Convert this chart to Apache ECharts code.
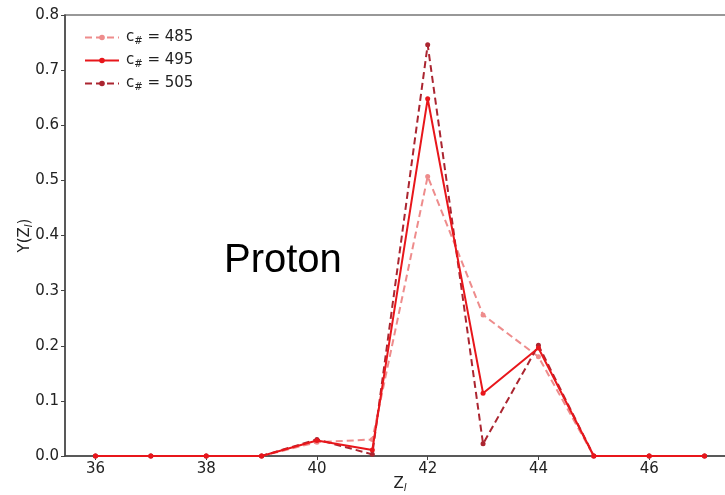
<!DOCTYPE html>
<html>
<head>
<meta charset="utf-8">
<script src="https://cdn.jsdelivr.net/npm/echarts@6/dist/echarts.min.js"></script>
<style>
  html, body { margin: 0; padding: 0; background: #fff; }
  #chart { width: 725px; height: 495px; }
</style>
</head>
<body>
<div id="chart"></div>
<script>
// Z_l values on the x axis
const zValues = [36, 37, 38, 39, 40, 41, 42, 43, 44, 45, 46, 47];
const xTicks = [36, 38, 40, 42, 44, 46];

// Y(Z_l) per c#
const y485 = [0, 0, 0, 0, 0.025, 0.030, 0.507, 0.256, 0.180, 0, 0, 0];
const y495 = [0, 0, 0, 0, 0.028, 0.011, 0.648, 0.114, 0.196, 0, 0, 0];
const y505 = [0, 0, 0, 0, 0.030, 0.003, 0.746, 0.022, 0.201, 0, 0, 0];

const seriesNames = ['485', '495', '505'];
const colors = ['#ee8c8c', '#e8161b', '#ab2530'];

const toPairs = arr => zValues.map((z, i) => [z, arr[i]]);

const chart = echarts.init(document.getElementById('chart'));

const tickText = { fontFamily: 'DejaVu Sans', fontSize: 15, color: '#222' };
const subStyle = { fontSize: 10, fontStyle: 'italic', verticalAlign: 'bottom', padding: [7, 0, 0, 0], fontFamily: 'DejaVu Sans', color: '#222' };

const makeSeries = (name, data, color, dashed) => ({
    name: name,
    type: 'line',
    data: toPairs(data),
    symbol: 'circle',
    symbolSize: 5,
    showSymbol: true,
    animation: false,
    lineStyle: { width: 2, color: color, type: dashed ? [7, 4] : 'solid' },
    itemStyle: { color: color },
    z: name === '495' ? 4 : 3,
});

const option = {
    backgroundColor: '#fff',
    animation: false,
    grid: {
        left: 65, top: 15, right: -10, bottom: 39,
        outerBoundsMode: 'none',
        show: true, borderColor: '#777', borderWidth: 1.5,
    },
    legend: {
        left: 79,
        top: 25,
        orient: 'vertical',
        itemWidth: 34,
        itemHeight: 7,
        itemGap: 7,
        data: seriesNames,
        formatter: name => 'c{sub|#} = ' + name,
        textStyle: {
            fontFamily: 'DejaVu Sans', fontSize: 15, color: '#222',
            padding: [0, 0, 0, 2],
            rich: { sub: { fontSize: 10, verticalAlign: 'bottom', padding: [7, 0, 0, 0], fontFamily: 'DejaVu Sans', color: '#222' } },
        },
    },
    xAxis: {
        type: 'value',
        min: 35.45,
        max: 47.55,
        name: 'Z{sub|l}',
        nameLocation: 'middle',
        nameGap: 20,
        nameMoveOverlap: false,
        nameTextStyle: Object.assign({ rich: { sub: subStyle } }, tickText),
        splitLine: { show: false },
        axisLine: { lineStyle: { color: '#444', width: 1.5 } },
        axisTick: { show: true, length: 4, customValues: xTicks, lineStyle: { color: '#444' } },
        axisLabel: Object.assign({ customValues: xTicks, margin: 6 }, tickText),
    },
    yAxis: {
        type: 'value',
        min: 0,
        max: 0.8,
        interval: 0.1,
        name: 'Y(Z{sub|l})',
        nameLocation: 'middle',
        nameGap: 31,
        nameMoveOverlap: false,
        nameTextStyle: Object.assign({ rich: { sub: subStyle } }, tickText),
        splitLine: { show: false },
        axisLine: { show: true, lineStyle: { color: '#444', width: 1.5 } },
        axisTick: { show: true, length: 4, lineStyle: { color: '#444' } },
        axisLabel: Object.assign({ formatter: v => v.toFixed(1), margin: 6 }, tickText),
    },
    graphic: [
        {
            type: 'text',
            left: 224,
            top: 241,
            style: { text: 'Proton', fontFamily: 'Liberation Sans', fontSize: 40, fill: '#000' },
        },
    ],
    series: [
        makeSeries('485', y485, colors[0], true),
        makeSeries('495', y495, colors[1], false),
        makeSeries('505', y505, colors[2], true),
    ],
};

chart.setOption(option);
</script>
</body>
</html>
